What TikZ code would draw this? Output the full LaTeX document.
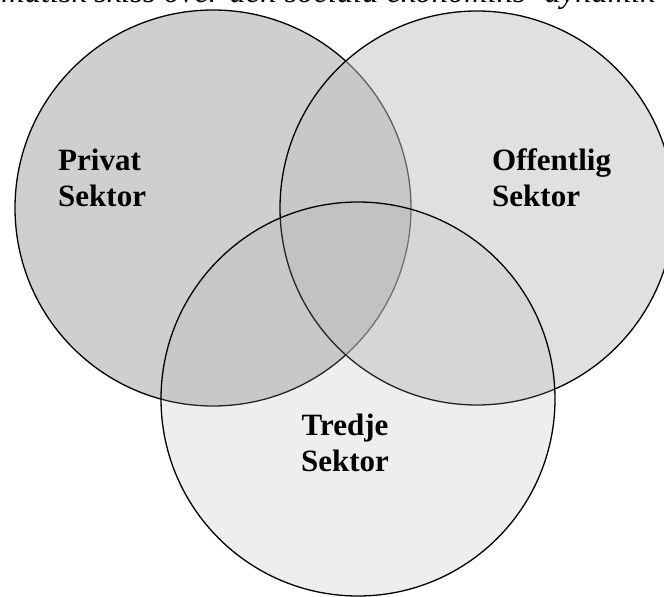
\documentclass[tikz,border=0pt]{standalone}
\usepackage{fontspec}
\setmainfont{Liberation Serif}
\definecolor{cPriv}{RGB}{207,207,207}
\definecolor{cOff}{RGB}{194,194,194}
\definecolor{cTre}{RGB}{174,174,174}
\begin{document}
\begin{tikzpicture}[x=1pt,y=-1pt,
  venn/.style={circle, draw=black, line width=1.3pt, inner sep=0pt, outer sep=0pt},
  lbl/.style={font=\fontsize{31}{36}\selectfont\bfseries, inner sep=0pt}]
\useasboundingbox (0,0) rectangle (664,597);
\clip (0,0) rectangle (664,597);
\node[anchor=base east, inner sep=0pt, font=\fontsize{32.5}{36}\selectfont\itshape] (title) at (655,2) {Schematisk skiss över den sociala ekonomins’ dynamik};
\node[venn, minimum size=396pt, fill=cPriv] (privat) at (213,208) {};
\node[venn, minimum size=394pt, fill=cOff, fill opacity=0.5] (off) at (477,208) {};
\node[venn, minimum size=394pt, fill=cTre, fill opacity=0.21] (tredje) at (358,399) {};
\node[lbl, align=left, anchor=base west] (tp) at (58,206) {Privat\\Sektor};
\node[lbl, align=left, anchor=base west] (to) at (492,206) {Offentlig\\Sektor};
\node[lbl, align=center, anchor=base] (tt) at (345,471) {Tredje\\Sektor};
\end{tikzpicture}
\end{document}
